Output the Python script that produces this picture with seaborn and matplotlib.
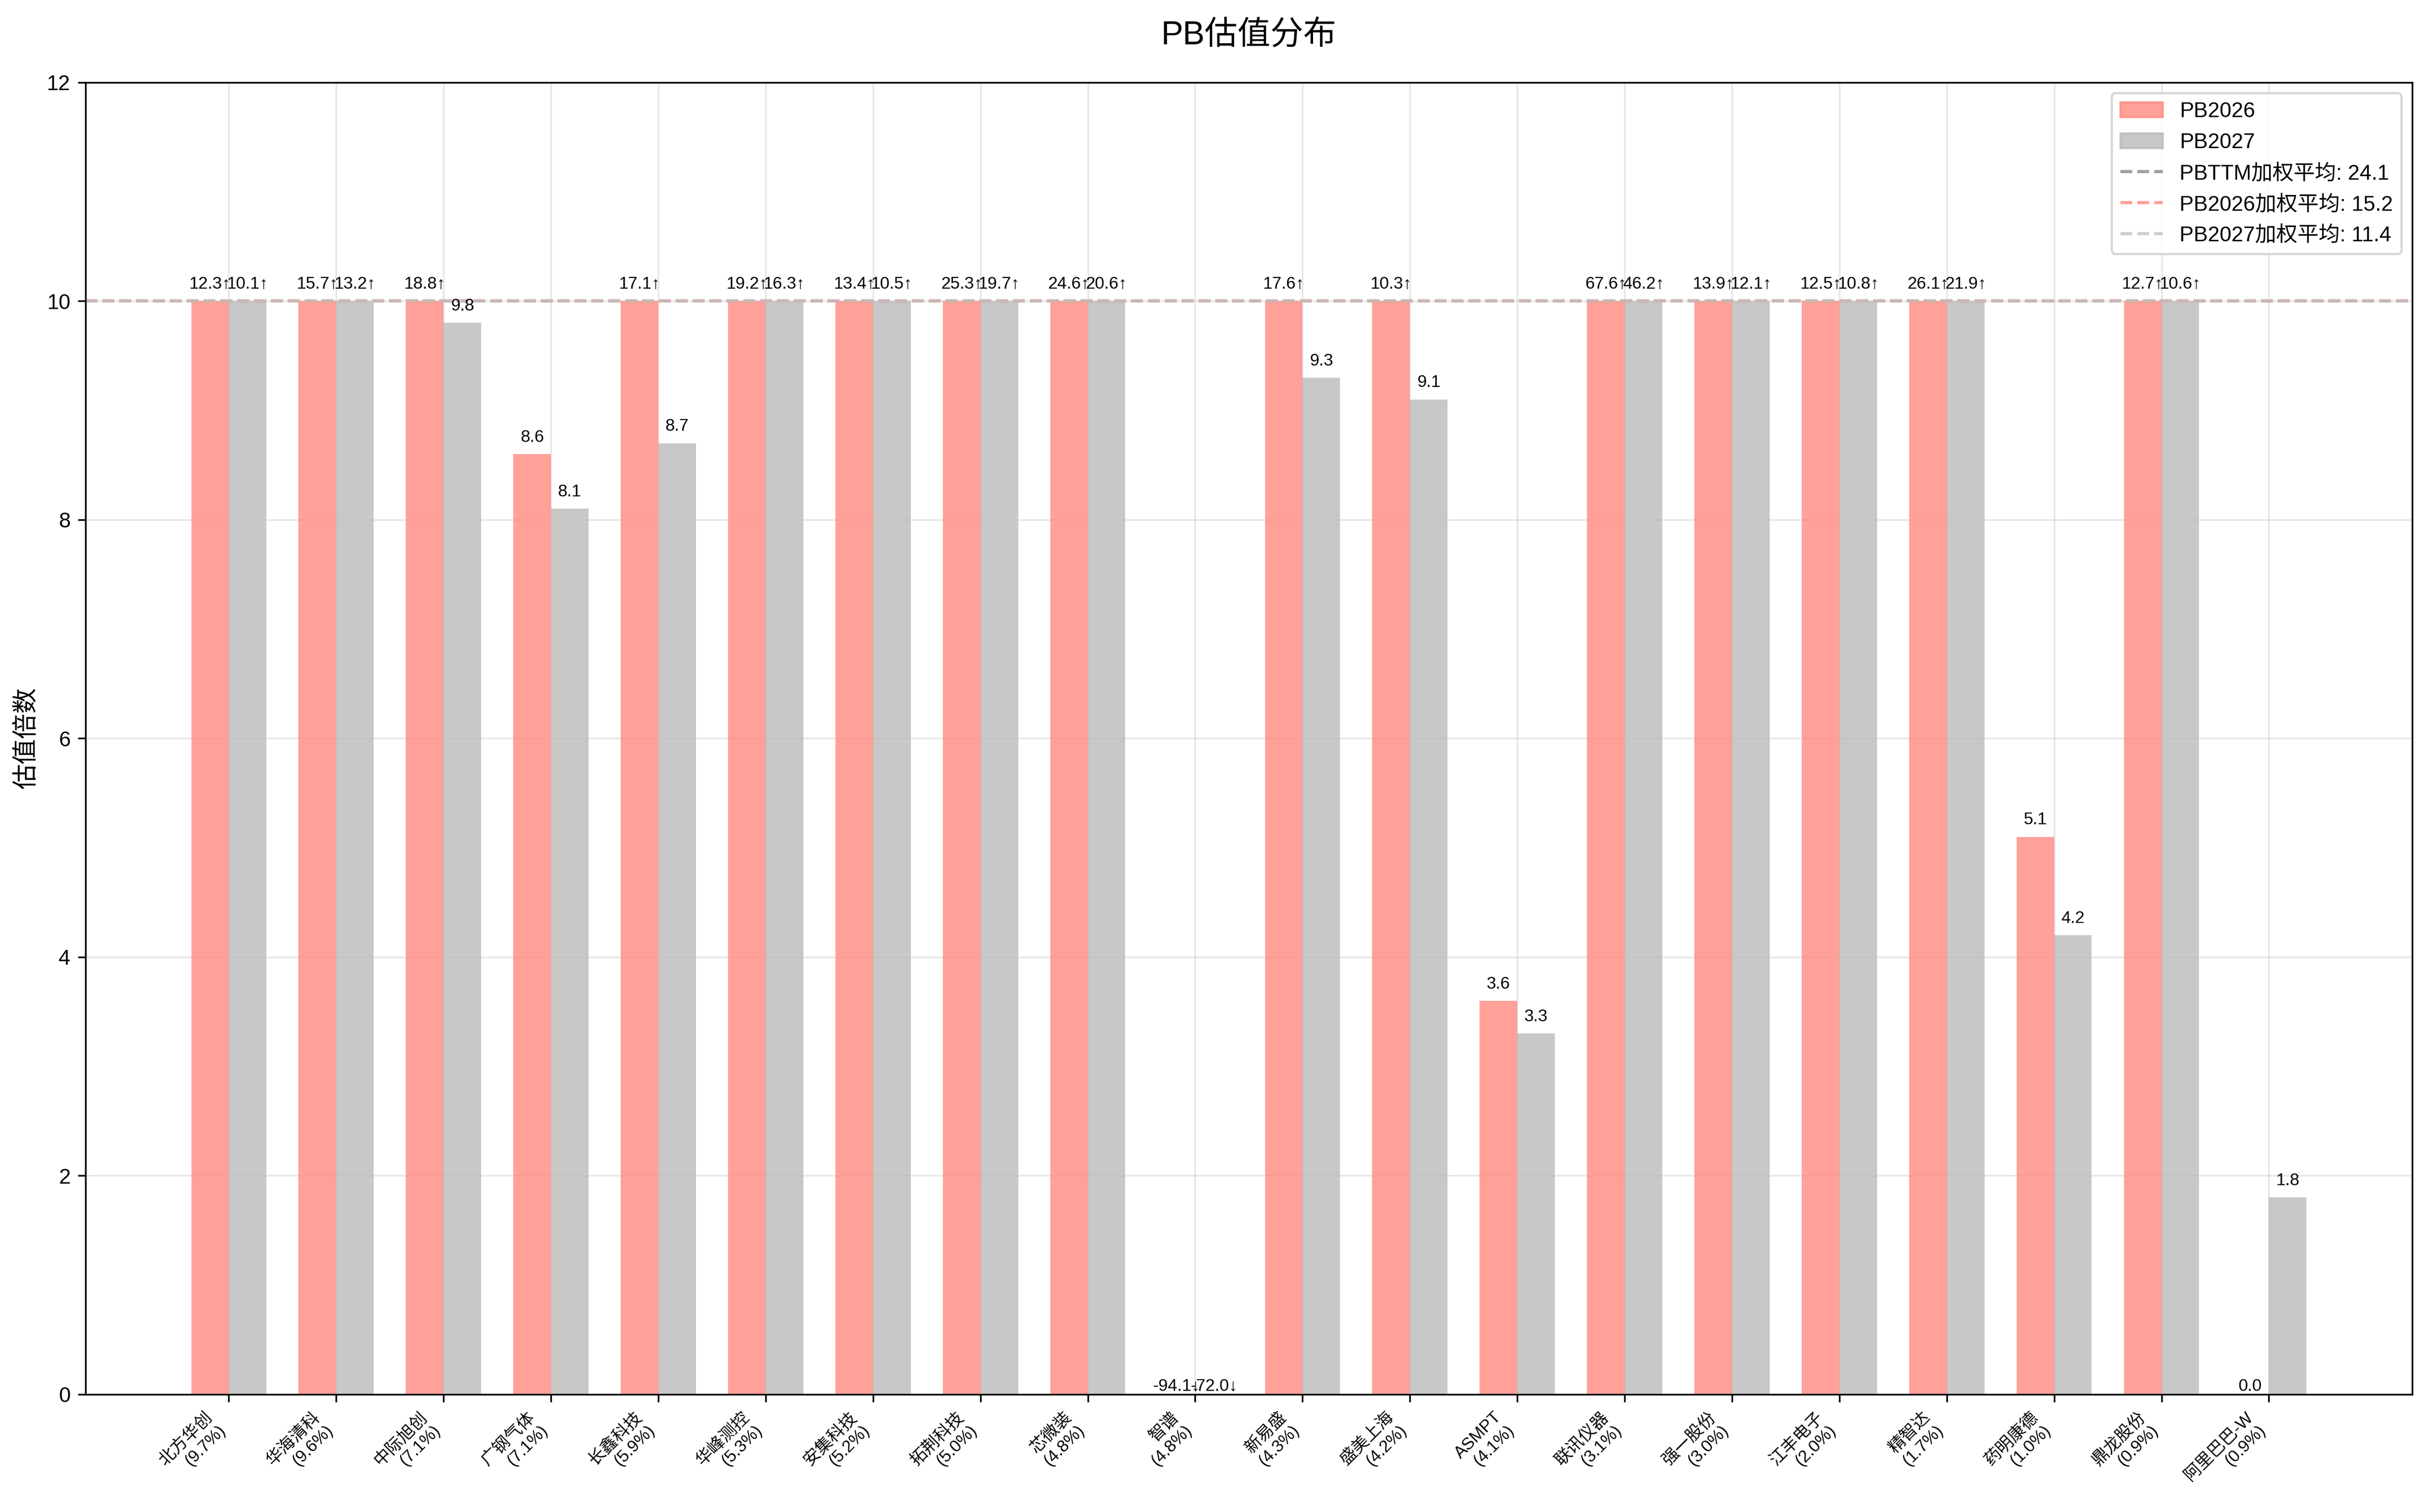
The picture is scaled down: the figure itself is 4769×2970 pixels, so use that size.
import numpy as np
import pandas as pd
import matplotlib
matplotlib.use("Agg")
import matplotlib.pyplot as plt
import seaborn as sns
from matplotlib.patches import Patch
from matplotlib.lines import Line2D

# ---------------- data ----------------
stocks = ["北方华创", "华海清科", "中际旭创", "广钢气体", "长鑫科技", "华峰测控",
          "安集科技", "拓荆科技", "芯微装", "智谱", "新易盛", "盛美上海", "ASMPT",
          "联讯仪器", "强一股份", "江丰电子", "精智达", "药明康德", "鼎龙股份", "阿里巴巴-W"]
weights = [9.7, 9.6, 7.1, 7.1, 5.9, 5.3, 5.2, 5.0, 4.8, 4.8, 4.3, 4.2, 4.1,
           3.1, 3.0, 2.0, 1.7, 1.0, 0.9, 0.9]
pb2026 = [12.3, 15.7, 18.8, 8.6, 17.1, 19.2, 13.4, 25.3, 24.6, -94.1, 17.6, 10.3, 3.6,
          67.6, 13.9, 12.5, 26.1, 5.1, 12.7, 0.0]
pb2027 = [10.1, 13.2, 9.8, 8.1, 8.7, 16.3, 10.5, 19.7, 20.6, -72.0, 9.3, 9.1, 3.3,
          46.2, 12.1, 10.8, 21.9, 4.2, 10.6, 1.8]
series_names = ["PB2026", "PB2027"]
avg_names = ["PBTTM加权平均", "PB2026加权平均", "PB2027加权平均"]
avg_values = [24.1, 15.2, 11.4]
display_cap = 10

# ---------------- style ----------------
sns.set_theme(style="ticks")
plt.rcParams["font.family"] = ["Liberation Sans", "Noto Sans CJK SC", "DejaVu Sans"]
plt.rcParams["axes.edgecolor"] = "black"
plt.rcParams["axes.linewidth"] = 0.8
plt.rcParams["xtick.major.size"] = 3.5
plt.rcParams["ytick.major.size"] = 3.5
plt.rcParams["xtick.major.width"] = 0.8
plt.rcParams["ytick.major.width"] = 0.8
plt.rcParams["xtick.color"] = "black"
plt.rcParams["ytick.color"] = "black"
plt.rcParams["text.color"] = "black"
plt.rcParams["axes.labelcolor"] = "black"

bar_colors = ["#FF8A80", "#BBBBBB"]
line_colors = ["#888888", "#FF8A80", "#C3C3C3"]

labels = [f"{s}\n({w:.1f}%)" for s, w in zip(stocks, weights)]
raw = {"PB2026": pb2026, "PB2027": pb2027}
rows = []
for sname in series_names:
    for lab, v in zip(labels, raw[sname]):
        rows.append({"label": lab, "series": sname, "value": v,
                     "display": min(max(v, 0.0), display_cap)})
df = pd.DataFrame(rows)

fig = plt.figure(figsize=(4769 / 300, 2970 / 300), dpi=300)
ax = fig.add_subplot(111)
fig.subplots_adjust(left=0.0352, right=0.9935, top=0.9455, bottom=0.0778)

sns.barplot(data=df, x="label", y="display", hue="series", order=labels,
            hue_order=series_names, palette=bar_colors, width=0.7, saturation=1,
            alpha=0.8, linewidth=0, errorbar=None, legend=False, ax=ax)

# value labels
for cont, sname in zip(ax.containers, series_names):
    for bar, v in zip(cont.patches, raw[sname]):
        xc = bar.get_x() + bar.get_width() / 2
        if v > display_cap:
            txt, y = f"{v:.1f}↑", display_cap + 0.08
        elif v < 0:
            txt, y = f"{v:.1f}↓", 0.0
        elif v == 0:
            txt, y = f"{v:.1f}", 0.0
        else:
            txt, y = f"{v:.1f}", v + 0.08
        ax.text(xc, y, txt, ha="center", va="bottom", fontsize=8)

# weighted average lines
for name, v, c in zip(avg_names, avg_values, line_colors):
    ax.axhline(min(v, display_cap), color=c, linestyle="--", linewidth=1.5, alpha=0.8)

n = len(labels)
ax.set_xlim(-1.335, n - 1 + 1.335)
ax.set_ylim(0, 12)
ax.set_yticks(np.arange(0, 13, 2))
ax.grid(True, color="#b0b0b0", alpha=0.3, linewidth=0.8)
ax.set_axisbelow(True)
ax.set_xlabel("")
ax.set_ylabel("估值倍数", fontsize=12)
ax.set_title("PB估值分布", fontsize=15.5, pad=18)
ax.tick_params(axis="y", labelsize=10)
plt.setp(ax.get_xticklabels(), rotation=45, ha="right", fontsize=8)
for sp in ax.spines.values():
    sp.set_visible(True)
    sp.set_color("black")

handles = [Patch(facecolor=c, edgecolor=c, alpha=0.8, label=s)
           for c, s in zip(bar_colors, series_names)]
handles += [Line2D([0], [0], color=c, linestyle="--", linewidth=1.5, alpha=0.8,
                   label=f"{nm}: {v:.1f}")
            for nm, v, c in zip(avg_names, avg_values, line_colors)]
ax.legend(handles=handles, loc="upper right", fontsize=10, frameon=True,
          facecolor="white", edgecolor="#cccccc", framealpha=0.8)

fig.savefig("out.png", dpi=300)
